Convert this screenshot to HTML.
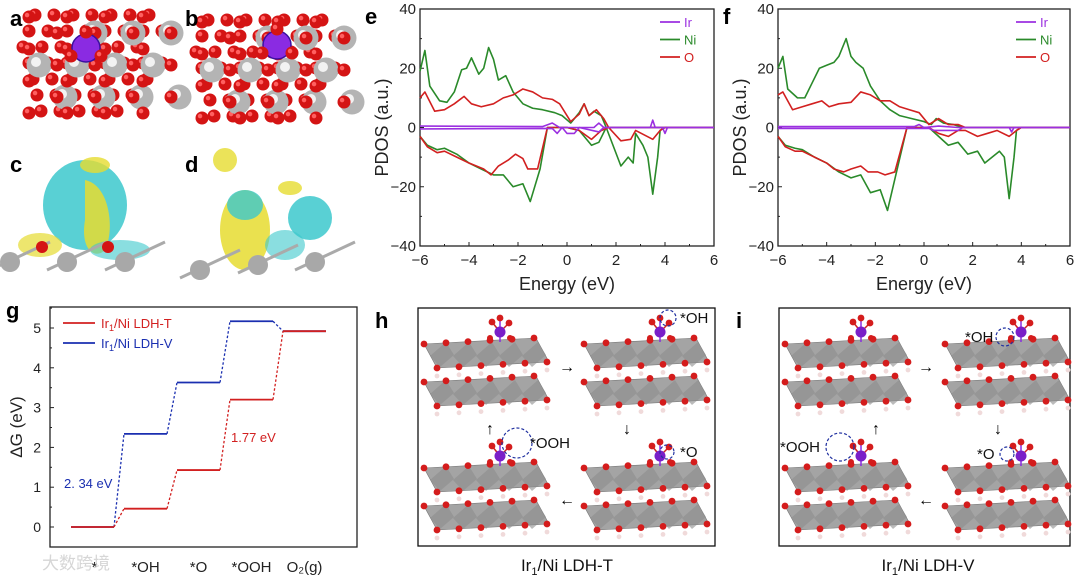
<!DOCTYPE html>
<html><head><meta charset="utf-8"><style>
body{margin:0;background:#fff;width:1080px;height:581px;overflow:hidden;font-family:"Liberation Sans","Noto Sans CJK SC",sans-serif}
svg{display:block}
text{font-family:"Liberation Sans","Noto Sans CJK SC",sans-serif}
</style></head><body>
<svg id="fig" width="1080" height="581" viewBox="0 0 1080 581">
<g id="structs"></g>
<g id="pdosE"></g>
<g id="pdosF"></g>
<g id="gibbs"></g>
<g id="mech"></g>
</svg>
<script>
// ---------- PDOS data ----------
const eNiUp=[[-6,19],[-5.8,26],[-5.6,14],[-5.2,9],[-4.9,8.5],[-4.6,12],[-4.3,19.5],[-4.1,20],[-3.9,23.5],[-3.6,18],[-3.4,20],[-3.2,27],[-3,23],[-2.8,16],[-2.5,17.5],[-2.2,12],[-1.8,8],[-1.4,6.5],[-1,6],[-0.5,5],[-0.2,4],[0.15,1.5],[0.5,5],[0.7,8],[0.9,4],[1.1,5.5],[1.4,4],[1.6,0],[2,0],[6,0]];
const eOUp=[[-6,10],[-5.8,12],[-5.4,5.5],[-5,6],[-4.6,8],[-4.2,10.5],[-3.9,8],[-3.5,7],[-3,8],[-2.6,10],[-2.2,11],[-1.8,13],[-1.4,12],[-1,10],[-0.6,9.5],[-0.3,8],[0.15,2],[0.5,4.5],[0.7,8],[0.9,4],[1.2,6],[1.5,3],[1.7,0],[6,0]];
const eNiDn=[[-6,-3],[-5.7,-6],[-5.3,-7.5],[-5,-7],[-4.5,-9],[-4,-12],[-3.5,-14],[-3,-16],[-2.6,-16],[-2.2,-20],[-1.8,-19],[-1.5,-25],[-1.1,-14],[-0.8,0],[0,0],[0.5,-1],[1,-6],[1.3,-5],[1.6,0],[2.2,-13],[2.5,-10],[2.7,-12],[2.8,-2],[3.1,-6],[3.3,-10],[3.5,-22.5],[3.7,-10],[3.8,-1],[4,0],[6,0]];
const eODn=[[-6,-3],[-5.7,-6.5],[-5.3,-8.5],[-5,-8],[-4.5,-10],[-4,-12],[-3.7,-13],[-3.4,-14],[-3.1,-16],[-2.8,-13],[-2.4,-11],[-2.1,-9],[-1.8,-10.5],[-1.6,-14],[-1.2,-14],[-0.8,0],[0,0],[0.5,-1],[1,-4],[1.4,-1],[1.7,0],[2.2,-4.5],[2.6,-4],[2.8,-1],[3.5,-4],[3.8,-1],[4,0],[6,0]];
const eIrUp=[[-6,0.5],[-1,0.3],[-0.6,1.5],[-0.3,0],[1.1,0],[1.3,1.5],[1.5,0],[3.4,0],[3.5,2.5],[3.6,0],[6,0]];
const eIrDn=[[-6,-0.5],[-0.6,-0.3],[-0.4,-2],[-0.2,0],[0,-2],[0.3,-2],[0.5,0],[1.3,-1.5],[1.5,0],[3.9,0],[4,-2],[4.1,0],[6,0]];
const fNiUp=[[-6,20],[-5.8,24],[-5.6,13],[-5.2,10],[-4.9,10],[-4.6,15],[-4.3,20],[-4,21],[-3.7,22],[-3.5,24],[-3.2,30],[-3,24],[-2.8,22],[-2.5,20],[-2.2,14],[-1.8,9],[-1.4,6],[-1,4],[-0.5,3],[0,2],[0.3,1],[0.5,3],[0.8,1.5],[1.2,1],[1.6,0],[6,0]];
const fOUp=[[-6,11],[-5.8,12],[-5.4,6],[-5,7],[-4.6,8],[-4.2,9],[-3.9,7],[-3.5,8],[-3,8.5],[-2.6,12],[-2.2,11],[-1.8,9],[-1.4,9],[-1,7],[-0.6,6],[-0.2,5],[0.2,1],[0.6,3],[1,1],[1.4,1],[1.7,0],[6,0]];
const fNiDn=[[-6,-3],[-5.7,-6],[-5.3,-7],[-5,-7.5],[-4.5,-10],[-4,-12],[-3.5,-15],[-3,-17],[-2.6,-16],[-2.2,-22],[-1.8,-21],[-1.5,-28],[-1.1,-14],[-0.7,0],[0.2,0],[0.6,-3],[1,-6],[1.4,-5],[1.8,-9],[2.2,-8],[2.5,-12],[2.8,-10],[3.1,-8],[3.3,-10],[3.5,-24],[3.7,-10],[3.8,-1],[4,0],[6,0]];
const fODn=[[-6,-3],[-5.7,-6.5],[-5.3,-8],[-5,-8],[-4.5,-10],[-4,-12],[-3.7,-14],[-3.3,-15],[-3,-14],[-2.6,-13],[-2.3,-15],[-1.9,-15],[-1.6,-16],[-1.2,-15],[-0.7,0],[0.2,0],[0.6,-2],[1,-3],[1.4,-1],[1.7,-1],[2.2,-3],[2.6,-2],[3,-1],[3.5,-3],[3.8,-1],[4,0],[6,0]];
const fIrUp=[[-6,0.3],[-0.4,0.3],[-0.2,1],[0,0],[0.6,0.5],[1.4,0],[6,0]];
const fIrDn=[[-6,-0.3],[0.2,-0.3],[0.4,-1],[1.4,-1],[1.6,0],[3.5,0],[3.6,-1.5],[3.7,0],[6,0]];
const xTicks=[-6,-4,-2,0,2,4,6];
const yTicks=[-40,-20,0,20,40];
const NS='http://www.w3.org/2000/svg';
function mk(parent,tag,attrs,txt){const e=document.createElementNS(NS,tag);for(const k in attrs)e.setAttribute(k,attrs[k]);if(txt!==undefined)e.textContent=txt;parent.appendChild(e);return e;}

function pdos(gid,x0,x1,y0,y1,letter,sets){
  const g=document.getElementById(gid);
  const sx=v=>x0+(v+6)/12*(x1-x0), sy=v=>y1-(v+40)/80*(y1-y0);
  const frame=mk(g,'rect',{x:x0,y:y0,width:x1-x0,height:y1-y0,fill:'none',stroke:'#222','stroke-width':1.3});
  
  xTicks.forEach(t=>{mk(g,'line',{x1:sx(t),x2:sx(t),y1:y1,y2:y1-4,stroke:'#222'});
    const tl=mk(g,'text',{x:sx(t),y:y1+19,'font-size':15,'text-anchor':'middle',fill:'#222'},t<0?'\u2212'+(-t):t);
    });
  [-5,-3,-1,1,3,5].forEach(t=>mk(g,'line',{x1:sx(t),x2:sx(t),y1:y1,y2:y1-2,stroke:'#222'}));
  yTicks.forEach(t=>{mk(g,'line',{x1:x0,x2:x0+4,y1:sy(t),y2:sy(t),stroke:'#222'});
    const tl=mk(g,'text',{x:x0-4,y:sy(t)+5,'font-size':15,'text-anchor':'end',fill:'#222'},t<0?'\u2212'+(-t):t);
    });
  [-30,-10,10,30].forEach(t=>mk(g,'line',{x1:x0,x2:x0+2,y1:sy(t),y2:sy(t),stroke:'#222'}));
  const xt=mk(g,'text',{x:(x0+x1)/2,y:y1+44,'font-size':18,'text-anchor':'middle',fill:'#222'},'Energy (eV)');
  
  const yt=mk(g,'text',{x:0,y:0,'font-size':18,'text-anchor':'middle',fill:'#222',transform:`translate(${x0-32},${(y0+y1)/2}) rotate(-90)`},'PDOS (a.u.)');
  
  const pl=mk(g,'text',{x:x0-55,y:y0+15,'font-size':22,'font-weight':'bold',fill:'#000'},letter);
  
  sets.forEach(s=>{const p=mk(g,'polyline',{points:s.d.map(q=>sx(q[0])+','+sy(q[1])).join(' '),fill:'none',stroke:s.c,'stroke-width':1.6,'stroke-linejoin':'round'});
    });
  [['Ir','#9b30e0'],['Ni','#2a8a2a'],['O','#d22020']].forEach((l,i)=>{
    const yy=y0+13+i*17.5;
    const ln=mk(g,'line',{x1:x1-54,x2:x1-34,y1:yy,y2:yy,stroke:l[1],'stroke-width':1.8});
    
    const lt=mk(g,'text',{x:x1-30,y:yy+5,'font-size':13,fill:l[1]},l[0]);
    });
}
pdos('pdosE',420,714,9,246,'e',[{d:eNiUp,c:'#2a8a2a',n:'ni-up-line'},{d:eNiDn,c:'#2a8a2a',n:'ni-down-line'},{d:eOUp,c:'#d22020',n:'o-up-line'},{d:eODn,c:'#d22020',n:'o-down-line'},{d:eIrUp,c:'#9b30e0',n:'ir-up-line'},{d:eIrDn,c:'#9b30e0',n:'ir-down-line'}]);
pdos('pdosF',778,1070,9,246,'f',[{d:fNiUp,c:'#2a8a2a',n:'ni-up-line'},{d:fNiDn,c:'#2a8a2a',n:'ni-down-line'},{d:fOUp,c:'#d22020',n:'o-up-line'},{d:fODn,c:'#d22020',n:'o-down-line'},{d:fIrUp,c:'#9b30e0',n:'ir-up-line'},{d:fIrDn,c:'#9b30e0',n:'ir-down-line'}]);

// ---------- Gibbs data ----------
const steps=['*','*OH','*O','*OOH','O\u2082(g)'];
const gT=[0,0.46,1.43,3.20,4.92];
const gV=[0,2.34,3.63,5.17,4.92];
const gTicks=[0,1,2,3,4,5];
(function(){
  const g=document.getElementById('gibbs');
  const x0=50,x1=357,y0=307,y1=547;
  const sy=v=>527-v*39.8;
  const segX=i=>[71+i*53,114+i*53];
  const fr=mk(g,'rect',{x:x0,y:y0,width:x1-x0,height:y1-y0,fill:'none',stroke:'#222','stroke-width':1.3});
  
  gTicks.forEach(t=>{mk(g,'line',{x1:x0,x2:x0+4,y1:sy(t),y2:sy(t),stroke:'#222'});
    const tl=mk(g,'text',{x:x0-9,y:sy(t)+5,'font-size':14,'text-anchor':'end',fill:'#222'},t);
    
    mk(g,'line',{x1:x0,x2:x0+2,y1:sy(t+0.5),y2:sy(t+0.5),stroke:'#222'});});
  const yt=mk(g,'text',{x:0,y:0,'font-size':17,'text-anchor':'middle',fill:'#222',transform:`translate(22,${(y0+527)/2+10}) rotate(-90)`},'\u0394G (eV)');
  
  steps.forEach((s,i)=>{const [a,b]=segX(i);
    const tl=mk(g,'text',{x:(a+b)/2+(i==0?2:0),y:572,'font-size':15,'text-anchor':'middle',fill:'#222'},s);
    });
  [[gV,'#1a2fb0','ldh-v'],[gT,'#d22020','ldh-t']].forEach(([d,c,n])=>{
    d.forEach((v,i)=>{const [a,b]=segX(i);
      const l=mk(g,'line',{x1:a,x2:b,y1:sy(v),y2:sy(v),stroke:c,'stroke-width':1.8});
      
      if(i<d.length-1){const [a2]=segX(i+1);
        const dl=mk(g,'line',{x1:b,x2:a2,y1:sy(v),y2:sy(d[i+1]),stroke:c,'stroke-width':1.3,'stroke-dasharray':'2.5,2'});
        }});
  });
  const a1=mk(g,'text',{x:64,y:488,'font-size':13,fill:'#1a2fb0'},'2. 34 eV');
  const a2=mk(g,'text',{x:231,y:442,'font-size':13,fill:'#d22020'},'1.77 eV');
  [['#d22020','Ir','LDH-T',323],['#1a2fb0','Ir','LDH-V',343]].forEach(l=>{
    mk(g,'line',{x1:63,x2:95,y1:l[3],y2:l[3],stroke:l[0],'stroke-width':1.8});
    const t=mk(g,'text',{x:101,y:l[3]+5,'font-size':13,fill:l[0]});
    t.innerHTML='Ir<tspan font-size="9" dy="3">1</tspan><tspan dy="-3">/Ni '+l[2]+'</tspan>';
    });
  const pl=mk(g,'text',{x:6,y:318,'font-size':22,'font-weight':'bold'},'g');
  const wm=mk(g,'text',{x:42,y:569,'font-size':17,fill:'#ccc',opacity:0.8},'\u5927\u6570\u8de8\u5883');
})();

// ---------- structure images a-d (approximate) ----------
(function(){
  const g=document.getElementById('structs');
  function red(x,y,r){mk(g,'circle',{cx:x,cy:y,r:r,fill:'#d41414'});mk(g,'circle',{cx:x-r*0.3,cy:y-r*0.3,r:r*0.35,fill:'#ff6060'});}
  function cluster(ox,oy,irx,iry){
    const rows=7;
    for(let r=0;r<rows;r++){const n=r<3?7+r%2:8-(r-3);const sx=ox+(r<3?18-r*6:r*4);
      for(let c=0;c<n;c++) red(sx+c*19,oy+10+r*16,6.5);}
    for(let r=0;r<3;r++)for(let c=0;c<4;c++){
      if(r==0&&c==0) continue;
      const x=ox+40+c*38+(r==1?-18:r==2?8:0), y=oy+28+r*32;
      mk(g,'circle',{cx:x,cy:y,r:12.5,fill:'#b4b4b4'});mk(g,'circle',{cx:x-3,cy:y-3,r:5,fill:'#f2f2f2'});}
    for(let r=0;r<rows;r++)for(let c=0;c<8;c++) if((r+c)%2==0){
      const x=ox+12+c*19+(r%2)*9, y=oy+12+r*16; if(x<ox+165) red(x,y,6.5);}
    mk(g,'circle',{cx:irx,cy:iry,r:14,fill:'#8a2be2',stroke:'#3a10a0','stroke-width':1.5});
    red(irx,iry-16,6.5);red(irx-15,iry+8,6.5);red(irx+15,iry+8,6.5);
  }
  cluster(17,5,86,48);cluster(190,10,277,45);
  [['a',10,26],['b',185,26],['c',10,172],['d',185,172]].forEach(p=>{const t=mk(g,'text',{x:p[1],y:p[2],'font-size':22,'font-weight':'bold'},p[0]);});
  // c
  mk(g,'ellipse',{cx:85,cy:205,rx:42,ry:45,fill:'#3cc8cc',opacity:0.85});
  mk(g,'path',{d:'M85,180 C110,185 115,230 105,250 C95,260 80,250 85,220Z',fill:'#e6dc30',opacity:0.85});
  mk(g,'ellipse',{cx:95,cy:165,rx:15,ry:8,fill:'#e6dc30',opacity:0.8});
  mk(g,'ellipse',{cx:40,cy:245,rx:22,ry:12,fill:'#e6dc30',opacity:0.7});
  mk(g,'ellipse',{cx:120,cy:250,rx:30,ry:10,fill:'#3cc8cc',opacity:0.6});
  // d
  mk(g,'ellipse',{cx:245,cy:230,rx:25,ry:40,fill:'#e6dc30',opacity:0.85});
  mk(g,'ellipse',{cx:245,cy:205,rx:18,ry:15,fill:'#3cc8cc',opacity:0.8});
  mk(g,'ellipse',{cx:225,cy:160,rx:12,ry:12,fill:'#e6dc30',opacity:0.8});
  mk(g,'ellipse',{cx:310,cy:218,rx:22,ry:22,fill:'#3cc8cc',opacity:0.85});
  mk(g,'ellipse',{cx:285,cy:245,rx:20,ry:15,fill:'#3cc8cc',opacity:0.6});
  mk(g,'ellipse',{cx:290,cy:188,rx:12,ry:7,fill:'#e6dc30',opacity:0.8});
  [[10,262],[67,262],[125,262],[200,270],[258,265],[315,262]].forEach(p=>{
    mk(g,'line',{x1:p[0]-20,y1:p[1]+8,x2:p[0]+40,y2:p[1]-20,stroke:'#aaa','stroke-width':3});
    mk(g,'circle',{cx:p[0],cy:p[1],r:10,fill:'#a8a8a8'});});
  [[42,247],[108,247]].forEach(p=>mk(g,'circle',{cx:p[0],cy:p[1],r:6,fill:'#d41414'}));
})();

// ---------- mechanism panels h,i ----------
(function(){
  const g=document.getElementById('mech');
  function slab(x,y){
    for(let L=0;L<2;L++){const yy=y+L*38;
      mk(g,'polygon',{points:`${x},${yy+6} ${x+112},${yy} ${x+125},${yy+24} ${x+13},${yy+30}`,fill:'#a4a4a4',stroke:'#777','stroke-width':0.6});
      for(let k=0;k<5;k++){const xx=x+k*23;
        mk(g,'polygon',{points:`${xx+6},${yy+18} ${xx+22},${yy+4} ${xx+30},${yy+17} ${xx+16},${yy+29}`,fill:'#8e8e8e',opacity:0.6});}
      for(let k=0;k<6;k++){
        mk(g,'circle',{cx:x+k*22,cy:yy+6-k*1.2,r:3.4,fill:'#d41c1c'});
        mk(g,'circle',{cx:x+k*22+13,cy:yy+30-k*1.2,r:3.4,fill:'#d41c1c'});
        mk(g,'circle',{cx:x+k*22+13,cy:yy+38-k*1.2,r:2.4,fill:'#f0dada'});}}}
  function ir(x,y){mk(g,'line',{x1:x,y1:y+10,x2:x,y2:y-12,stroke:'#8a2be2','stroke-width':1.5});
    mk(g,'line',{x1:x,y1:y,x2:x-8,y2:y-10,stroke:'#c22',"stroke-width":1.5});mk(g,'line',{x1:x,y1:y,x2:x+9,y2:y-9,stroke:'#c22',"stroke-width":1.5});
    mk(g,'circle',{cx:x-8,cy:y-10,r:3.4,fill:'#d41c1c'});mk(g,'circle',{cx:x+9,cy:y-9,r:3.4,fill:'#d41c1c'});mk(g,'circle',{cx:x,cy:y-14,r:3.4,fill:'#d41c1c'});
    mk(g,'circle',{cx:x-10,cy:y+6,r:3,fill:'#d41c1c'});mk(g,'circle',{cx:x+10,cy:y+6,r:3,fill:'#d41c1c'});
    mk(g,'circle',{cx:x,cy:y,r:5.5,fill:'#7a1fc8'});}
  function panel(bx,lab,letter,ann,arrows){
    const r=mk(g,'rect',{x:bx,y:308,width:bx>700?291:297,height:238,fill:'none',stroke:'#111','stroke-width':1.3});
    
    const L=mk(g,'text',{x:bx-43,y:328,'font-size':22,'font-weight':'bold'},letter);
    [[bx+6,338],[bx+166,338],[bx+6,462],[bx+166,462]].forEach(p=>{slab(p[0],p[1]);ir(p[0]+76,p[1]-6);});
    ann.forEach(a=>{mk(g,'circle',{cx:a[0],cy:a[1],r:a[3],fill:'none',stroke:'#2030a0','stroke-dasharray':'3,2','stroke-width':1.2});
      const t=mk(g,'text',{x:a[4],y:a[1]+5,'font-size':15,fill:'#111'},a[2]);});
    arrows.forEach(a=>{const t=mk(g,'text',{x:a[0],y:a[1],'font-size':16,'text-anchor':'middle','font-weight':'bold'},a[2]);});
    const c=mk(g,'text',{x:bx+149,y:571,'font-size':17,'text-anchor':'middle',fill:'#111'});
    c.innerHTML='Ir<tspan font-size="11" dy="4">1</tspan><tspan dy="-4">/Ni '+lab+'</tspan>';
    }
  panel(418,'LDH-T','h',[[668,318,'*OH',8,680],[517,443,'*OOH',15,530],[667,452,'*O',7,680]],
    [[567,372,'\u2192'],[567,505,'\u2190'],[627,434,'\u2193'],[490,434,'\u2191']]);
  panel(779,'LDH-V','i',[[1005,337,'*OH',9,965],[840,447,'*OOH',14,780],[1007,454,'*O',7,977]],
    [[926,372,'\u2192'],[926,505,'\u2190'],[998,434,'\u2193'],[876,434,'\u2191']]);
})();
</script>
</body></html>
